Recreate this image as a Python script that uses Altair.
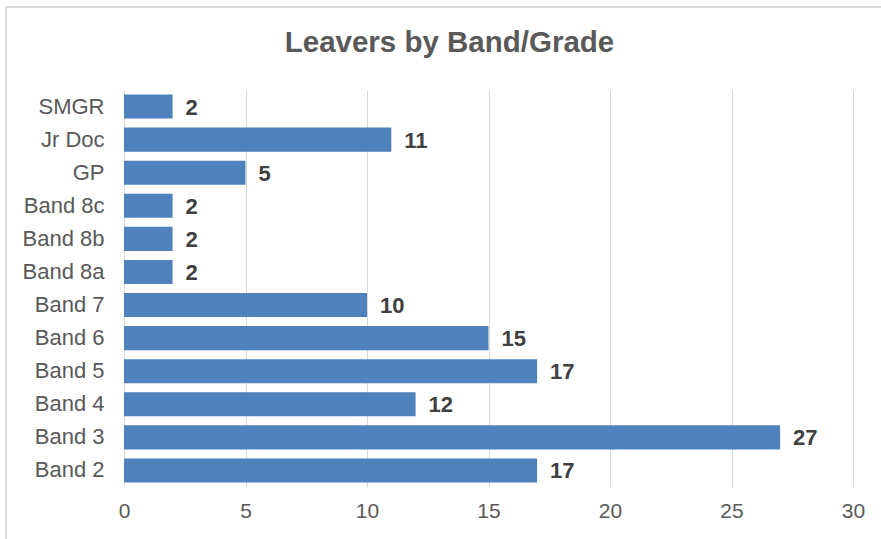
import altair as alt
import pandas as pd

# Leavers per band / grade, listed top to bottom
grades = ["SMGR", "Jr Doc", "GP", "Band 8c", "Band 8b", "Band 8a",
          "Band 7", "Band 6", "Band 5", "Band 4", "Band 3", "Band 2"]
leavers = [2, 11, 5, 2, 2, 2, 10, 15, 17, 12, 27, 17]
x_ticks = [0, 5, 10, 15, 20, 25, 30]

df = pd.DataFrame({"grade": grades, "leavers": leavers})

FONT = "Liberation Sans"
BAR = "#4F81BD"
TEXT = "#595959"

y_enc = alt.Y(
    "grade:N",
    sort=grades,
    title=None,
    scale=alt.Scale(paddingInner=0.27, paddingOuter=0.135),
    axis=alt.Axis(domain=False, ticks=False, tickSize=0, labelPadding=20,
                  labelFont=FONT, labelFontSize=22, labelColor=TEXT,
                  grid=False),
)
x_enc = alt.X(
    "leavers:Q",
    title=None,
    scale=alt.Scale(domain=[0, 30], nice=False),
    axis=alt.Axis(values=x_ticks, domain=False, ticks=False, tickSize=0,
                  labelPadding=13, labelFlush=False, labelFont=FONT,
                  labelFontSize=21, labelColor=TEXT, grid=True,
                  gridColor="#D9D9D9", gridWidth=1),
)

bars = alt.Chart(df).mark_bar(color=BAR).encode(x=x_enc, y=y_enc)

labels = alt.Chart(df).mark_text(
    align="left", baseline="middle", dx=13, dy=1,
    font=FONT, fontSize=22, fontWeight="bold", color="#404040",
).encode(x="leavers:Q", y=alt.Y("grade:N", sort=grades), text="leavers:Q")

# light frame around the whole chart
frame = alt.Chart(pd.DataFrame({"f": [0]})).mark_rect(
    fill=None, stroke="#D9D9D9", strokeWidth=2,
).encode(
    x=alt.value(-118), x2=alt.value(800),
    y=alt.value(-83), y2=alt.value(480),
)

# the title sits relative to the frame's top edge, hence the negative offset
chart = alt.layer(frame, bars, labels).properties(
    width=729,
    height=397,
    background="white",
    title=alt.TitleParams(
        "Leavers by Band/Grade", font=FONT, fontSize=29.5, fontWeight="bold",
        color=TEXT, anchor="middle", frame="group", dx=-39, offset=-75,
        baseline="alphabetic",
    ),
    autosize=alt.AutoSizeParams(type="none"),
    padding={"left": 124, "top": 90, "right": 28, "bottom": 52},
).configure_view(strokeWidth=0, stroke="transparent")

chart.save("out.html", embed_options={"renderer": "svg", "actions": False})
